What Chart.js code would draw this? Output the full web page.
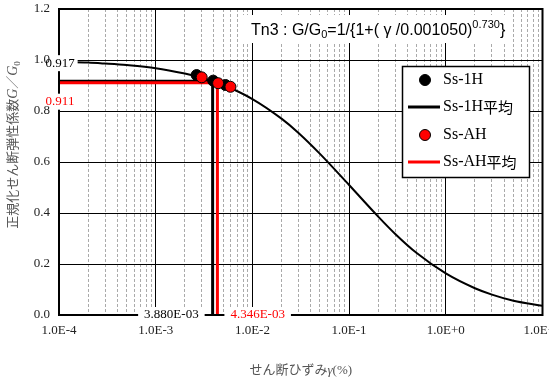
<!DOCTYPE html>
<html>
<head>
<meta charset="utf-8">
<script src="https://cdn.jsdelivr.net/npm/chart.js@4.4.1/dist/chart.umd.min.js"></script>
<style>
  body { margin: 0; background: #fff; }
  canvas { display: block; }
</style>
</head>
<body>
<canvas id="gChart" width="549" height="383"></canvas>
<script>
// axis ticks
const xTickLabels = ['1.0E-4', '1.0E-3', '1.0E-2', '1.0E-1', '1.0E+0', '1.0E+1'];
const yTickLabels = ['0.0', '0.2', '0.4', '0.6', '0.8', '1.0', '1.2'];
const xMin = 1e-4, xMax = 10;

// fitted curve
const curveStrain = [1e-4, 2e-4, 3e-4, 5e-4, 1e-3, 2e-3, 3e-3, 5e-3, 1e-2, 2e-2, 3e-2, 5e-2, 0.1, 0.2, 0.3, 0.5, 1, 2, 3, 5, 10];
const curveRatio  = [0.993, 0.99, 0.986, 0.98, 0.968, 0.947, 0.931, 0.902, 0.847, 0.77, 0.714, 0.632, 0.51, 0.386, 0.318, 0.243, 0.163, 0.105, 0.08, 0.056, 0.036];

// measured points
const h1Strain = [2.65e-3, 3.93e-3, 5.27e-3];
const h1Ratio  = [0.941, 0.919, 0.902];
const ahStrain = [2.99e-3, 4.42e-3, 5.93e-3];
const ahRatio  = [0.932, 0.909, 0.895];

// averages: [Ss-1H, Ss-AH]
const avgStrain = [3.880e-3, 4.346e-3];
const avgRatio  = [0.917, 0.911];

const seriesNames = ['Ss-1H', 'Ss-1H平均', 'Ss-AH', 'Ss-AH平均'];
const RED = '#ff0000';
const CJK = '"Noto Sans CJK JP"';

function pts(xs, ys) { return xs.map((v, i) => ({x: v, y: ys[i]})); }
function avgLine(i) {
  return [{x: xMin, y: avgRatio[i]}, {x: avgStrain[i], y: avgRatio[i]}, {x: avgStrain[i], y: 0}];
}
function fmtE(v) {
  const e = Math.floor(Math.log10(v));
  const m = v / Math.pow(10, e);
  return m.toFixed(3) + 'E' + (e < 0 ? '-' : '+') + String(Math.abs(e)).padStart(2, '0');
}
function isDecade(v) {
  const e = Math.log10(v);
  return Math.abs(e - Math.round(e)) < 1e-6;
}

function rich(ctx, segs, x, y, align) {
  let w = 0;
  segs.forEach(s => { ctx.font = s.f; s.w = ctx.measureText(s.t).width; w += s.w; });
  let cx = align === 'center' ? x - w / 2 : (align === 'right' ? x - w : x);
  ctx.textAlign = 'left';
  segs.forEach(s => {
    ctx.font = s.f;
    ctx.fillText(s.t, cx, y + (s.dy || 0));
    cx += s.w;
  });
  return w;
}

// label with a white patch; padL/padR are offsets of the patch from the text
function boxText(ctx, text, x, y, align, color, padL, padR) {
  ctx.font = '13px "Liberation Serif"';
  const w = ctx.measureText(text).width;
  const left = align === 'center' ? x - w / 2 : (align === 'right' ? x - w : x);
  ctx.fillStyle = '#fff';
  ctx.fillRect(left - padL, y - 8, w + padL + padR, 16);
  ctx.fillStyle = color;
  ctx.textAlign = 'left';
  ctx.textBaseline = 'middle';
  ctx.fillText(text, left, y);
}

const overlay = {
  id: 'overlay',
  afterDraw(chart) {
    const {ctx, chartArea: a, scales: {x, y}} = chart;
    ctx.save();
    // plot frame
    ctx.strokeStyle = '#000';
    ctx.lineWidth = 2;
    ctx.strokeRect(a.left, a.top, a.right - a.left, a.bottom - a.top);

    // average value labels
    boxText(ctx, avgRatio[0].toFixed(3), a.left + 1, y.getPixelForValue(avgRatio[0]) - 18, 'center', '#000', -8, 3);
    boxText(ctx, avgRatio[1].toFixed(3), a.left + 1, y.getPixelForValue(avgRatio[1]) + 19, 'center', RED, -8, 3);
    boxText(ctx, fmtE(avgStrain[0]), x.getPixelForValue(avgStrain[0]) - 14, a.bottom, 'right', '#000', 6, 6);
    boxText(ctx, fmtE(avgStrain[1]), x.getPixelForValue(avgStrain[1]) + 13, a.bottom, 'left', RED, 6, 6);

    // formula
    ctx.fillStyle = '#fff';
    ctx.fillRect(240, 15, 272, 28);
    ctx.fillStyle = '#000';
    ctx.textBaseline = 'alphabetic';
    const S = '16px "Liberation Sans"', s = '11px "Liberation Sans"';
    rich(ctx, [
      {t: 'Tn3', f: S}, {t: ' : ', f: S}, {t: 'G/G', f: S}, {t: '0', f: s, dy: 3},
      {t: '=1/{1+( ', f: S}, {t: 'γ', f: S}, {t: ' /0.001050)', f: S},
      {t: '0.730', f: s, dy: -7}, {t: '}', f: S}
    ], 251, 35, 'left');

    // legend
    const lx = 402, ly = 66, lw = 127, lh = 111;
    ctx.fillStyle = '#fff';
    ctx.fillRect(lx, ly, lw, lh);
    ctx.strokeStyle = '#000';
    ctx.lineWidth = 1.5;
    ctx.strokeRect(lx + 0.5, ly + 0.5, lw, lh);
    const rows = [80, 107, 135, 162];
    const ds = chart.data.datasets.filter(d => d.inLegend);
    ds.forEach((d, i) => {
      const ry = rows[i];
      if (d.showLine) {
        ctx.strokeStyle = d.borderColor;
        ctx.lineWidth = 3;
        ctx.beginPath(); ctx.moveTo(408, ry); ctx.lineTo(440, ry); ctx.stroke();
      } else {
        ctx.beginPath(); ctx.arc(425, ry, 5.5, 0, Math.PI * 2);
        ctx.fillStyle = d.pointBackgroundColor; ctx.fill();
        ctx.strokeStyle = '#000'; ctx.lineWidth = 1; ctx.stroke();
      }
      ctx.fillStyle = '#000';
      ctx.textBaseline = 'middle';
      const m = d.label.match(/^([^\u4e00-\u9fff]+)(.*)$/);
      rich(ctx, [{t: m[1], f: '16px "Liberation Serif"'}, {t: m[2], f: '15px ' + CJK}], 443, ry, 'left');
    });

    // axis titles
    ctx.fillStyle = '#555';
    ctx.textBaseline = 'alphabetic';
    rich(ctx, [
      {t: 'せん断ひずみ', f: '13px ' + CJK},
      {t: 'γ', f: 'italic 13px "Liberation Serif"'},
      {t: '(%)', f: '13px "Liberation Serif"'}
    ], (a.left + a.right) / 2, 374, 'center');

    ctx.translate(17, 145);
    ctx.rotate(-Math.PI / 2);
    rich(ctx, [
      {t: '正規化せん断弾性係数', f: '13px ' + CJK},
      {t: 'G', f: 'italic 14px "Liberation Serif"'},
      {t: '／', f: '13px ' + CJK},
      {t: 'G', f: 'italic 14px "Liberation Serif"'},
      {t: '0', f: '9px "Liberation Serif"', dy: 3}
    ], 0, 0, 'center');
    ctx.restore();
  }
};

const ctx = document.getElementById('gChart').getContext('2d');
new Chart(ctx, {
  type: 'scatter',
  data: {
    datasets: [
      {
        label: 'fit', data: pts(curveStrain, curveRatio), showLine: true,
        borderColor: '#000', borderWidth: 2, pointRadius: 0,
        cubicInterpolationMode: 'monotone', order: 6, inLegend: false
      },
      {
        label: seriesNames[0], data: pts(h1Strain, h1Ratio),
        pointRadius: 5.5, pointBackgroundColor: '#000', pointBorderColor: '#000',
        pointBorderWidth: 1, order: 2, inLegend: true
      },
      {
        label: seriesNames[1], data: avgLine(0), showLine: true,
        borderColor: '#000', borderWidth: 3, pointRadius: 0, order: 5, inLegend: true
      },
      {
        label: seriesNames[2], data: pts(ahStrain, ahRatio),
        pointRadius: 5.5, pointBackgroundColor: RED, pointBorderColor: '#000',
        pointBorderWidth: 1, order: 1, inLegend: true
      },
      {
        label: seriesNames[3], data: avgLine(1), showLine: true,
        borderColor: RED, borderWidth: 3, pointRadius: 0, order: 4, inLegend: true
      }
    ]
  },
  options: {
    responsive: false,
    animation: false,
    layout: { padding: { top: 9, right: 3, left: 0, bottom: 0 } },
    plugins: {
      legend: { display: false },
      tooltip: { enabled: false }
    },
    scales: {
      x: {
        type: 'logarithmic',
        min: xMin,
        max: xMax,
        afterBuildTicks: function (scale) {
          scale.ticks = scale.ticks.filter(t => {
            const m = t.value / Math.pow(10, Math.floor(Math.log10(t.value) + 1e-9));
            return Math.abs(m - Math.round(m)) < 1e-6;
          });
        },
        afterFit: function (scale) {
          scale.height = 68;
          scale.paddingLeft = 0;
          scale.paddingRight = 0;
        },
        grid: {
          drawTicks: false,
          color: c => (c.tick && isDecade(c.tick.value)) ? '#000' : '#aaa',
          lineWidth: 1
        },
        border: {
          display: false,
          dash: c => (c.tick && !isDecade(c.tick.value)) ? [3, 2] : []
        },
        ticks: {
          autoSkip: false,
          maxRotation: 0,
          minRotation: 0,
          padding: 8,
          color: '#222',
          font: { family: 'Liberation Serif', size: 13 },
          callback: function (v) {
            if (!isDecade(v)) return '';
            return xTickLabels[Math.round(Math.log10(v / xMin))];
          }
        }
      },
      y: {
        min: 0,
        max: 1.2,
        afterFit: function (scale) {
          scale.width = 59;
          scale.paddingTop = 0;
          scale.paddingBottom = 0;
        },
        grid: { drawTicks: false, color: '#000', lineWidth: 1 },
        border: { display: false },
        ticks: {
          stepSize: 0.2,
          padding: 9,
          color: '#222',
          font: { family: 'Liberation Serif', size: 13 },
          callback: function (v) { return yTickLabels[Math.round(v / 0.2)]; }
        }
      }
    }
  },
  plugins: [overlay]
});
</script>
</body>
</html>
